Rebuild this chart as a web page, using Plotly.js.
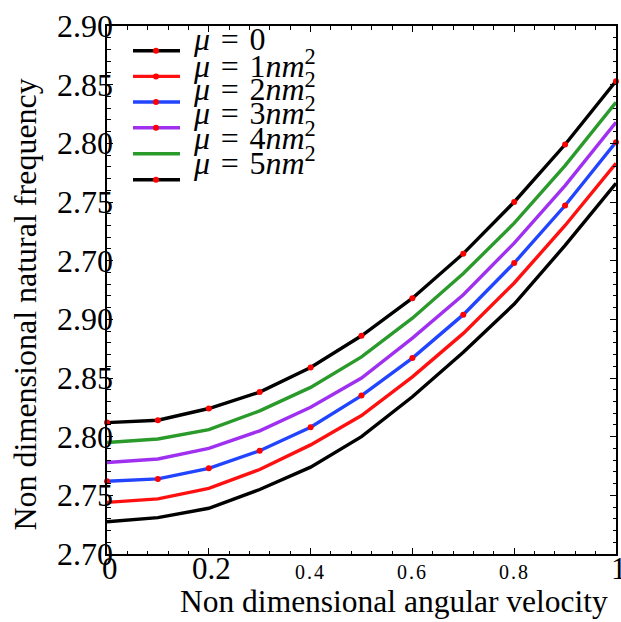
<!DOCTYPE html>
<html>
<head>
<meta charset="utf-8">
<script src="https://cdn.plot.ly/plotly-3.0.1.min.js"></script>
<style>html,body{margin:0;padding:0;background:#fff;}#chart{width:621px;height:622px;}</style>
</head>
<body>
<div id="chart"></div>
<script>
// ---- data ----
const omega = [0, 0.1, 0.2, 0.3, 0.4, 0.5, 0.6, 0.7, 0.8, 0.9, 1.0];
const freqMu0 = [2.7275, 2.731, 2.739, 2.755, 2.774, 2.800, 2.834, 2.872, 2.913, 2.963, 3.016];
const freqMu1 = [2.744, 2.747, 2.756, 2.772, 2.793, 2.818, 2.851, 2.888, 2.931, 2.980, 3.033];
const freqMu2 = [2.762, 2.764, 2.773, 2.788, 2.808, 2.835, 2.867, 2.904, 2.948, 2.997, 3.051];
const freqMu3 = [2.778, 2.781, 2.790, 2.805, 2.825, 2.850, 2.884, 2.921, 2.965, 3.014, 3.068];
const freqMu4 = [2.795, 2.798, 2.806, 2.822, 2.842, 2.868, 2.901, 2.939, 2.982, 3.031, 3.085];
const freqMu5 = [2.812, 2.814, 2.824, 2.838, 2.859, 2.886, 2.918, 2.956, 3.000, 3.049, 3.103];
const seriesNames = ['μ = 0', 'μ = 1nm²', 'μ = 2nm²', 'μ = 3nm²', 'μ = 4nm²', 'μ = 5nm²'];
const xTickVals = [0, 0.2, 0.4, 0.6, 0.8, 1];
const xTickLabels = ['0', '0.2', '0.4', '0.6', '0.8', '1'];
const yTickVals = [2.70, 2.75, 2.80, 2.85, 2.90, 2.95, 3.00, 3.05, 3.10, 3.15];
const yTickLabels = ['2.70', '2.75', '2.80', '2.85', '2.90', '2.70', '2.75', '2.80', '2.85', '2.90'];
const legendTexts = ['<i>μ</i>\u2004=\u20040', '<i>μ</i>\u2004=\u20041<i>nm</i><sup>2</sup>', '<i>μ</i>\u2004=\u20042<i>nm</i><sup>2</sup>',
  '<i>μ</i>\u2004=\u20043<i>nm</i><sup>2</sup>', '<i>μ</i>\u2004=\u20044<i>nm</i><sup>2</sup>', '<i>μ</i>\u2004=\u20045<i>nm</i><sup>2</sup>'];
const xTitle = 'Non dimensional angular velocity';
const yTitle = 'Non dimensional natural frequency';

// ---- styling ----
const FONT = 'Liberation Serif, Times New Roman, serif';
const colors = ['#000000', '#ff1010', '#2244ff', '#a030f0', '#2a9a2a', '#000000'];
const plotDots = [false, false, true, false, false, true];
const legendDots = [true, true, true, true, false, true];
const series = [freqMu0, freqMu1, freqMu2, freqMu3, freqMu4, freqMu5];
const smallTicks = new Set(['0.4', '0.6', '0.8']);

const W = 621, H = 622, ML = 107, MR = 5, MT = 26, MB = 68;
const PW = W - ML - MR, PH = H - MT - MB;
const px2x = p => (p - ML) / PW;
const py2y = p => (H - MB - p) / PH;

const traces = series.map((ys, i) => ({
  x: omega, y: ys, type: 'scatter',
  mode: plotDots[i] ? 'lines+markers' : 'lines',
  name: seriesNames[i], showlegend: false, cliponaxis: false,
  line: {color: colors[i], width: 3.4},
  marker: {color: '#ff0000', size: 6}
}));

const shapes = [];
const annotations = [];

// manual legend (line, optional dot, text)
const lineY = [50.7, 76.4, 102, 127.8, 153.7, 179.7];
const textBase = [51, 78, 101, 125, 150, 175];
legendTexts.forEach((t, i) => {
  shapes.push({type: 'line', xref: 'paper', yref: 'paper', x0: px2x(133), x1: px2x(180),
    y0: py2y(lineY[i]), y1: py2y(lineY[i]), line: {color: colors[i], width: 3.4}});
  if (legendDots[i]) {
    shapes.push({type: 'circle', xref: 'paper', yref: 'paper', xsizemode: 'pixel', ysizemode: 'pixel',
      xanchor: px2x(156), yanchor: py2y(lineY[i]), x0: -3, x1: 3, y0: -3, y1: 3,
      fillcolor: '#ff0000', line: {width: 0}});
  }
  annotations.push({text: t, xref: 'paper', yref: 'paper', x: px2x(192), y: py2y(textBase[i] + 7),
    xanchor: 'left', yanchor: 'bottom', showarrow: false, borderpad: 0,
    font: {family: FONT, size: 32, color: '#000'}});
});

// y tick labels (placed by the y scale)
yTickVals.forEach((v, i) => {
  annotations.push({text: yTickLabels[i], xref: 'paper', yref: 'y', x: px2x(114), y: v,
    xanchor: 'right', yanchor: 'middle', showarrow: false, borderpad: 0,
    font: {family: FONT, size: 32, color: '#000'}});
});
// x tick labels (placed by the x scale)
xTickVals.forEach((v, i) => {
  const s = xTickLabels[i];
  const small = smallTicks.has(s);
  annotations.push({text: small ? '<span style="letter-spacing:2px">' + s + '</span>' : s,
    xref: 'x', yref: 'paper', x: v, y: py2y(small ? 584.3 : 587), xshift: small ? 0 : 3,
    xanchor: 'center', yanchor: 'bottom', showarrow: false, borderpad: 0,
    font: {family: FONT, size: small ? 20 : 31, color: '#000'}});
});

annotations.push({text: xTitle, xref: 'paper', yref: 'paper',
  x: px2x(394), y: py2y(619.5), xanchor: 'center', yanchor: 'bottom', showarrow: false, borderpad: 0,
  font: {family: FONT, size: 31.5, color: '#000'}});
annotations.push({text: yTitle, xref: 'paper', yref: 'paper', textangle: -90,
  x: px2x(24.5), y: py2y(305), xanchor: 'center', yanchor: 'middle', showarrow: false, borderpad: 0,
  font: {family: FONT, size: 32, color: '#000'}});

const axisCommon = {
  showgrid: false, zeroline: false, showline: true, linecolor: '#000', linewidth: 1.8,
  mirror: 'allticks', ticks: 'inside', ticklen: 6, tickwidth: 1, tickcolor: '#000',
  showticklabels: false, automargin: false, fixedrange: true
};

const layout = {
  width: W, height: H, margin: {l: ML, r: MR, t: MT, b: MB},
  paper_bgcolor: '#fff', plot_bgcolor: '#fff', showlegend: false,
  font: {family: FONT, color: '#000'},
  xaxis: Object.assign({}, axisCommon, {
    range: [0, 1], tickmode: 'array', tickvals: xTickVals,
    minor: {dtick: 0.04, ticks: 'inside', ticklen: 3.5, tickwidth: 1, tickcolor: '#000', showgrid: false}
  }),
  yaxis: Object.assign({}, axisCommon, {
    range: [2.70, 3.15], tickmode: 'array', tickvals: yTickVals,
    minor: {dtick: 0.01, ticks: 'inside', ticklen: 3.5, tickwidth: 1, tickcolor: '#000', showgrid: false}
  }),
  shapes: shapes, annotations: annotations
};

Plotly.newPlot('chart', traces, layout, {displayModeBar: false, staticPlot: true});
</script>
</body>
</html>
